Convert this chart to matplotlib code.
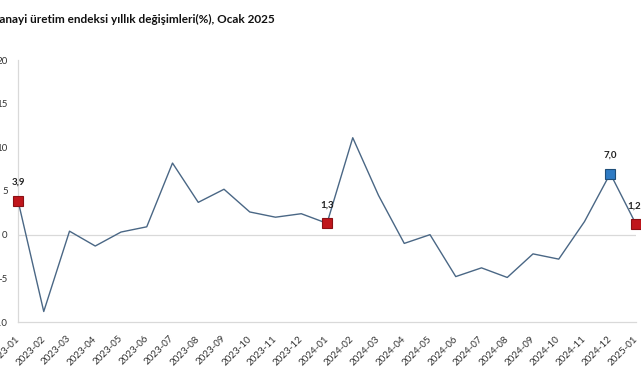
import matplotlib
matplotlib.use("Agg")
import matplotlib.pyplot as plt

months = ["2023-01", "2023-02", "2023-03", "2023-04", "2023-05", "2023-06",
          "2023-07", "2023-08", "2023-09", "2023-10", "2023-11", "2023-12",
          "2024-01", "2024-02", "2024-03", "2024-04", "2024-05", "2024-06",
          "2024-07", "2024-08", "2024-09", "2024-10", "2024-11", "2024-12",
          "2025-01"]
values = [3.9, -8.8, 0.4, -1.3, 0.3, 0.9, 8.2, 3.7, 5.2, 2.6, 2.0, 2.4,
          1.3, 11.1, 4.5, -1.0, 0.0, -4.8, -3.8, -4.9, -2.2, -2.8, 1.5, 7.0,
          1.2]
red_idx = [0, 12, 24]
blue_idx = [23]
label_texts = {0: "3,9", 12: "1,3", 23: "7,0", 24: "1,2"}
yticks = [-10, -5, 0, 5, 10, 15, 20]
title = "Sanayi üretim endeksi yıllık değişimleri(%), Ocak 2025"

plt.rcParams['font.family'] = ['Lato', 'DejaVu Sans']

W, H = 641, 380
fig = plt.figure(figsize=(W / 100, H / 100), dpi=100)
ax = fig.add_axes([18 / W, 1 - 322 / H, (636 - 18) / W, (322 - 60) / H])

x = list(range(len(months)))
ax.plot(x, values, color="#4A6785", lw=1.0, zorder=3)
for i in red_idx:
    ax.plot(x[i], values[i], marker="s", ms=7.5, color="#C0161C",
            markeredgecolor="#8B1014", mew=0.8, zorder=4, clip_on=False)
for i in blue_idx:
    ax.plot(x[i], values[i], marker="s", ms=7.5, color="#2E7BC4",
            markeredgecolor="#1F4E79", mew=0.8, zorder=4, clip_on=False)
for i, t in label_texts.items():
    dx = -2 if i == len(months) - 1 else 0
    ax.annotate(t, (x[i], values[i]), xytext=(dx, 18), textcoords="offset pixels",
                ha="center", va="center", fontsize=7, fontweight="bold",
                color="#222222", annotation_clip=False)

ax.axhline(0, color="#D9D9D9", lw=0.9, zorder=1)
ax.set_xlim(0, len(months) - 1)
ax.set_ylim(-10, 20)
ax.set_yticks(yticks)
ax.set_yticklabels([str(v) for v in yticks])
ax.set_xticks(x)
ax.set_xticklabels(months, rotation=45, ha="right", va="center",
                   rotation_mode="anchor")
ax.tick_params(axis="y", length=0, pad=7.5, labelsize=7, labelcolor="#333333")
ax.tick_params(axis="x", length=0, pad=11, labelsize=7, labelcolor="#333333")
for s in ["top", "right"]:
    ax.spines[s].set_visible(False)
for s in ["left", "bottom"]:
    ax.spines[s].set_color("#D9D9D9")
    ax.spines[s].set_linewidth(0.9)

fig.text(-7 / W, 1 - 19 / H, title, ha="left", va="center", fontsize=8.5,
         fontweight="bold", color="#111111")

fig.savefig("out.png", dpi=100)
